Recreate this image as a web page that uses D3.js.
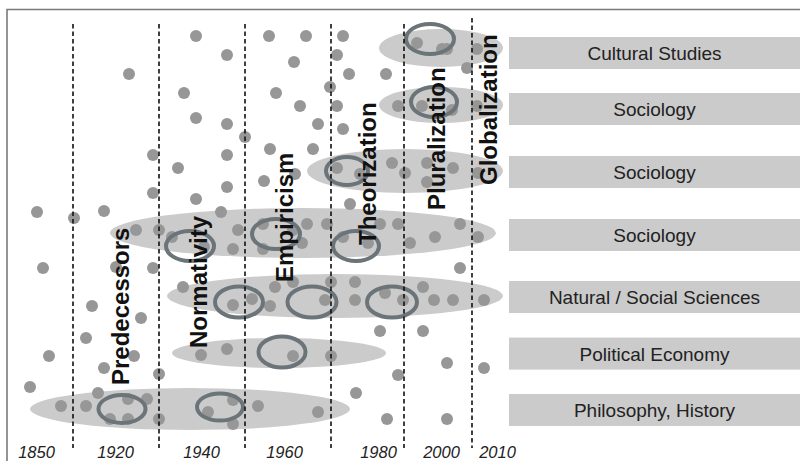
<!DOCTYPE html>
<html lang="en">
<head>
<meta charset="UTF-8">
<title>Disciplines and eras</title>
<script src="https://d3js.org/d3.v7.min.js"></script>
<style>
    body { margin: 0; background: #fff; }
    svg { display: block; font-family: "Liberation Sans", Arial, sans-serif; }
    .tick text { font-size: 16.5px; font-style: italic; fill: #222; }
    .era { font-size: 24px; font-weight: bold; fill: #111; }
    .field { font-size: 19px; fill: #222; }
</style>
</head>
<body>
<div id="chart"></div>
<script>
    // positions are in diagram units (x: 0-100 across the timeline, y: 0-100 bottom to top)
    const tickPos = [5.2, 21, 38.2, 54.8, 73.6, 86.2, 97.4];
    const tickLabels = ["1850", "1920", "1940", "1960", "1980", "2000", "2010"];

    // era boundaries: x, top
    const boundaries = [[12.6, 106.5], [29.8, 106.5], [47, 106.5], [64.2, 106.5], [78.8, 106.5], [92.4, 108]];

    // era labels: name, x of baseline, y of start
    const eras = [
        ["Predecessors", 23.8, 16.25],
        ["Normativity", 39.4, 25.5],
        ["Empiricism", 56.6, 42],
        ["Theorization", 73.2, 51.25],
        ["Pluralization", 87, 60],
        ["Globalization", 97.4, 66.25]
    ];

    // disciplines on the right: label, centre y
    const fields = [
        ["Cultural Studies", 99.25],
        ["Sociology", 85.25],
        ["Sociology", 69.5],
        ["Sociology", 53.75],
        ["Natural / Social Sciences", 38.25],
        ["Political Economy", 24.1],
        ["Philosophy, History", 10]
    ];

    // clusters: cx, cy, rx, ry
    const clusters = [
        [36, 10.25, 32, 5.25],
        [53.8, 24.25, 21.4, 3.75],
        [65, 38.5, 33.6, 5.5],
        [58.6, 54.25, 38.6, 6.25],
        [79, 69.75, 19.6, 5.5],
        [86.2, 86.25, 12.4, 4.5],
        [86.2, 100.5, 12.4, 4.75]
    ];

    // highlighted rings: cx, cy, rx, ry
    const rings = [
        [22.4, 10.25, 4.7, 3.5], [42, 10.75, 4.6, 3.4], [54.4, 24.5, 4.7, 3.9],
        [45.8, 37, 4.8, 3.9], [60.4, 37, 4.9, 3.9], [76.4, 37, 5, 3.9],
        [36, 51, 4.8, 3.75], [53.2, 54, 4.8, 3.75], [69.2, 51, 4.6, 3.75],
        [67.4, 69.75, 4.2, 3.5], [84.8, 87, 4.6, 3.75], [84, 102.75, 4.8, 3.75]
    ];

    // scattered works
    const dots = [
        [23.8, 94], [28.6, 73.75], [28.6, 64.25], [5.4, 59.5], [12.8, 58], [18.8, 59.75],
        [37.2, 103.5], [43.4, 98.75], [34.8, 89.25], [37.2, 83], [43.4, 81.5], [47, 78.25],
        [43.4, 73.75], [33.6, 70.5], [37.2, 62.75], [43.4, 65.75], [42.2, 59.5],
        [51.8, 103.5], [59.2, 103.5], [56.8, 97], [53.2, 89.25], [58, 86], [61.6, 81.5],
        [52, 75.25], [60.6, 75.25], [50.8, 67.25], [57, 69],
        [66.6, 103.5], [65.4, 98.75], [67.8, 94], [64, 90.75], [65.4, 86], [66.6, 80.25], [75.2, 94],
        [81.4, 101.75], [86.4, 100.25], [87.4, 100.25], [93.4, 100.25], [91.4, 95.5],
        [77.6, 86], [82.4, 86], [88.4, 85], [93.4, 86],
        [65.4, 70.5], [70, 69], [76.4, 71.75], [79, 69.25], [83.4, 71.75], [83.4, 67], [88.6, 70.5], [93.6, 69.25],
        [68, 61.5],
        [25.2, 55], [29.8, 55], [32.4, 53.25], [45.6, 55], [44.6, 50.25], [50.6, 56.5], [50.6, 50.25],
        [56.6, 55], [58.4, 51.75], [59.4, 56.5], [63.4, 56.5], [66.6, 53.25], [71.6, 51.75], [74, 56.5],
        [77.6, 56.5], [80, 51.75], [85, 53.25], [90, 56.5], [93.6, 53.25], [38.8, 50.75],
        [6.6, 45.5], [21.2, 45.75], [28.6, 45.5], [90, 45.5],
        [16.4, 36], [26.2, 33], [15.2, 28], [7.8, 23.5], [24.8, 23.5], [18.8, 20.5], [29.8, 19], [4, 15.75],
        [34.6, 40.75], [44.6, 36.25], [48.4, 37.75], [52, 36], [53, 40.75], [56.6, 42], [63, 37.5],
        [64.2, 42], [69, 42], [69, 37.5], [75, 39.25], [78.6, 37.5], [82.6, 40.75], [84.8, 37.5],
        [88.6, 37.5], [94.8, 37.5],
        [74, 29.75], [82.6, 29.75],
        [38.2, 23.75], [43.4, 25.25], [56.6, 23.5], [64.2, 23.5], [87.4, 21.75], [94.8, 20.5],
        [77.6, 18.75], [69.2, 14.25],
        [17.6, 14.25], [10.2, 11], [15.2, 11], [23.6, 12.75], [27.4, 12.75], [20, 7.75], [23.6, 7.75],
        [29.8, 7.75], [44.6, 12.5], [39.6, 9.5], [44.6, 6.5], [49.6, 11], [61.6, 9.5], [75.4, 7.75], [87.4, 7.75]
    ];

    const width = 802, height = 461;

    const x = d3.scaleLinear().domain([0, 100]).range([10, 510]);
    const y = d3.scaleLinear().domain([0, 100]).range([450, 50]);

    const svg = d3.select("#chart").append("svg")
        .attr("width", width)
        .attr("height", height);

    // frame (top and left)
    svg.append("path")
        .attr("d", `M7,${height} V9.5 H800`)
        .attr("fill", "none")
        .attr("stroke", "#7a7a7a")
        .attr("stroke-width", 1.6);

    // discipline bars on the right
    const barH = y(0) - y(8);
    const field = svg.append("g").selectAll("g")
        .data(fields)
        .join("g");
    field.append("rect")
        .attr("x", x(99.8))
        .attr("y", d => y(d[1]) - barH / 2)
        .attr("width", x(158) - x(99.8))
        .attr("height", barH)
        .attr("fill", "#cbcbcb");
    field.append("text")
        .attr("class", "field")
        .attr("x", (x(99.8) + x(158)) / 2)
        .attr("y", d => y(d[1]))
        .attr("dy", "0.38em")
        .attr("text-anchor", "middle")
        .text(d => d[0]);

    // clusters
    svg.append("g").selectAll("ellipse")
        .data(clusters)
        .join("ellipse")
        .attr("cx", d => x(d[0]))
        .attr("cy", d => y(d[1]))
        .attr("rx", d => x(d[2]) - x(0))
        .attr("ry", d => y(0) - y(d[3]))
        .attr("fill", "#cbcbcb");

    // dots
    svg.append("g").selectAll("circle")
        .data(dots)
        .join("circle")
        .attr("cx", d => x(d[0]))
        .attr("cy", d => y(d[1]))
        .attr("r", 6)
        .attr("fill", "#979797");

    // rings
    svg.append("g").selectAll("ellipse")
        .data(rings)
        .join("ellipse")
        .attr("cx", d => x(d[0]))
        .attr("cy", d => y(d[1]))
        .attr("rx", d => x(d[2]) - x(0))
        .attr("ry", d => y(0) - y(d[3]))
        .attr("fill", "none")
        .attr("stroke", "#6b7479")
        .attr("stroke-width", 4);

    // era boundaries
    svg.append("g").selectAll("line")
        .data(boundaries)
        .join("line")
        .attr("x1", d => x(d[0]))
        .attr("x2", d => x(d[0]))
        .attr("y1", d => y(d[1]))
        .attr("y2", y(0.5))
        .attr("stroke", "#111")
        .attr("stroke-width", 1.6)
        .attr("stroke-dasharray", "4.5,3");

    // era labels
    svg.append("g").selectAll("text")
        .data(eras)
        .join("text")
        .attr("class", "era")
        .attr("transform", d => `translate(${x(d[1])},${y(d[2])}) rotate(-90)`)
        .text(d => d[0]);

    // year axis (baseline of labels)
    const axis = svg.append("g")
        .attr("transform", `translate(0,${y(-2)})`)
        .call(d3.axisBottom(x)
            .tickValues(tickPos)
            .tickFormat((d, i) => tickLabels[i])
            .tickSize(0)
            .tickPadding(0));
    axis.select(".domain").remove();
    axis.selectAll(".tick text")
        .attr("y", 0)
        .attr("dy", 0)
        .attr("font-family", null)
        .attr("font-size", null);
</script>
</body>
</html>
